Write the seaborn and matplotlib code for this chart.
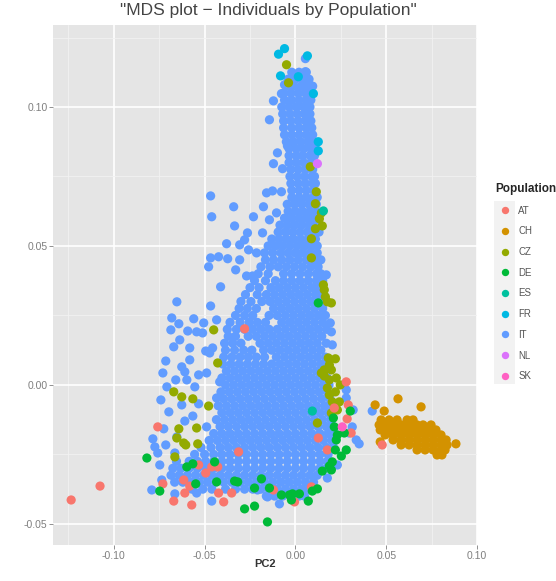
import matplotlib
matplotlib.use("Agg")
import matplotlib.pyplot as plt
from matplotlib.patches import Rectangle
import pandas as pd
import seaborn as sns

populations = ["AT", "CH", "CZ", "DE", "ES", "FR", "IT", "NL", "SK"]
colours = ["#F8766D", "#D39200", "#93AA00", "#00BA38", "#00C19F", "#00B9E3", "#619CFF", "#DB72FB", "#FF61C3"]

# (PC2, PC1), one list per population
fr_points = [(-.006, .121), (-.0093, .119), (.0066, .1184), (-.0082, .1112), (.0016, .1109), (.0099, .1048),
             (.0126, .0875), (.0126, .0842)]
nl_points = [(.0121, .0796)]
es_points = [(.0154, .0626), (.0093, -.0094)]
sk_points = [(.0258, -.0151)]
cz_points = [(-.0049, .1152), (-.0038, .1087), (.0082, .0785), (.0115, .0695), (.011, .0652), (.0143, .0619),
             (.0132, .0598), (.0148, .0572), (.011, .0562), (.0088, .0526), (.0088, .0457), (.0159, .0342),
             (.0165, .0317), (.0198, .0295), (.0176, .0299), (.0154, .036), (-.045, .0198), (-.0428, .0079),
             (-.067, -.0025), (-.0565, -.005), (-.0478, -.0076), (-.0626, -.0043), (-.0642, -.0158), (-.0544, -.0155),
             (-.0615, -.0209), (-.0604, -.0216), (-.0538, -.0212), (-.0653, -.0191), (-.0664, -.0259), (.022, .0094),
             (.0181, .0097), (.0159, .0054), (.0198, .0054), (.0143, .0043), (.0225, .0025), (.0187, .0072),
             (.0176, -.0011), (.022, -.0025), (.0203, -.0061), (.0231, -.009), (.0198, -.0101), (.0121, -.0137),
             (.0187, -.0036), (.0242, -.0061), (.0247, 0), (.0159, .0032), (.0187, .0018)]
at_points = [(-.0758, -.0151), (-.1235, -.0414), (-.1076, -.0364), (-.067, -.0418), (-.0571, -.0432), (-.0395, -.0421),
             (-.0351, -.0389), (-.0609, -.0389), (-.073, -.0356), (-.0615, -.0342), (-.0582, -.0364), (-.0533, -.0288),
             (-.0494, -.0317), (-.0461, -.0295), (-.0428, -.0295), (-.0423, -.0389), (-.028, .0202), (-.0313, -.0241),
             (.028, .0011), (.0285, -.0122), (.0307, -.0173), (.0214, -.0083), (-.0121, -.0378), (-.0005, -.0421),
             (.0088, -.0367), (.0126, -.0191), (.0176, -.0234), (.0291, -.0072), (.0478, -.0216)]
de_points = [(-.0818, -.0263), (-.0747, -.0382), (-.028, -.0446), (-.0225, -.0436), (-.0154, -.0493), (-.0598, -.0295),
             (-.0565, -.0284), (-.0549, -.0356), (-.0434, -.0349), (-.0445, -.0277), (-.0335, -.0346), (-.0318, -.0349),
             (-.0187, -.0338), (-.0143, -.0371), (-.0225, -.0371), (.0126, .0295), (.0302, -.0094), (.0209, -.0119),
             (.0225, -.0198), (.022, -.0234), (.028, -.0234), (.0253, -.0256), (.0203, -.0277), (.0148, -.031),
             (.0269, -.0173), (.0214, -.0151), (.0071, -.0418), (.0121, -.0374), (.0093, -.0382), (-.0022, -.0414),
             (.0022, -.0392), (-.0016, -.0392), (-.0077, -.0396), (-.0033, -.0396), (.0231, -.018), (.0198, -.0306),
             (.0187, -.0292)]
ch_points = [(.0439, -.0072), (.0565, -.0050), (.0692, -.0079), (.0489, -.0094), (.0467, -.0205), (.0884, -.0212),
             (.0472, -.0126), (.0516, -.0126), (.056, -.0126), (.0615, -.0126), (.0648, -.0126),
             (.0461, -.0144), (.0494, -.0144), (.0538, -.0144), (.0582, -.0144), (.0626, -.0144), (.067, -.0144), (.0703, -.0144), (.0747, -.0144),
             (.0467, -.0162), (.0511, -.0162), (.0555, -.0162), (.0598, -.0162), (.0642, -.0162), (.0686, -.0162), (.073, -.0162), (.0774, -.0162),
             (.0494, -.018), (.0538, -.018), (.0582, -.018), (.0626, -.018), (.067, -.018), (.0714, -.018), (.0758, -.018), (.0802, -.018),
             (.0538, -.0198), (.0582, -.0198), (.0626, -.0198), (.067, -.0198), (.0714, -.0198), (.0758, -.0198), (.0802, -.0198), (.083, -.0198),
             (.0582, -.0216), (.0626, -.0216), (.067, -.0216), (.0714, -.0216), (.0758, -.0216), (.0802, -.0216), (.0835, -.0216),
             (.067, -.0234), (.0714, -.0234), (.0758, -.0234), (.0802, -.0234), (.0824, -.0234),
             (.078, -.0252), (.0807, -.0252)]
it_fringe = [(.0055, .1174), (.0055, .1127), (-.006, .108), (-.0077, .1048), (-.0121, .1022), (-.0143, .0954),
             (-.0044, .086), (-.0099, .0835), (-.0121, .0796), (-.0071, .0778), (-.0467, .068), (-.034, .0641),
             (-.0461, .0605), (-.0231, .0605), (-.0335, .0572), (-.0176, .0641), (-.0159, .0691), (-.0126, .0698),
             (-.0077, .0695), (-.0264, .0547), (-.0379, .0508), (-.0307, .0504), (-.0467, .0457), (-.0423, .0461),
             (-.0373, .0454), (-.0307, .045), (-.0478, .0425), (-.0329, .0414), (-.0269, .0392), (-.0236, .0392),
             (-.028, .0522), (-.0258, .0486), (-.0214, .0475), (-.0181, .0547), (-.0143, .0594), (-.0104, .0619),
             (-.0653, .0299), (-.0467, .0284), (-.0412, .0353), (-.0681, .0241), (-.0642, .022), (-.056, .0238),
             (-.0505, .0223), (-.0686, .0198), (-.0593, .0194), (-.0544, .0191), (-.0511, .0187), (-.0637, .0162),
             (-.067, .0137), (-.0582, .0133), (-.0582, .009), (-.0494, .0122), (-.0456, .0133), (-.0714, .0086),
             (-.073, .0043), (-.0626, .0065), (-.0609, .0047), (-.0659, .0018), (-.0533, .0036), (-.0489, .0043),
             (-.0708, -.0007), (-.0598, .0018), (-.0554, -.0007), (-.0741, -.0054), (-.0626, -.0072), (-.0533, -.0068),
             (-.0697, -.0097), (-.0565, -.0112), (-.0609, -.013), (-.0725, -.0158), (-.0785, -.0194), (-.0714, -.0216),
             (-.0774, -.0223), (-.0758, -.0245), (-.0664, -.0245), (-.0747, -.0288), (-.0736, -.0342), (-.0791, -.0378),
             (-.0664, -.0392), (-.0544, -.0389), (-.0461, -.0418), (-.0653, -.0187), (-.0489, -.0151), (-.0434, -.0047),
             (-.0417, .0011), (-.0472, .0115), (-.0434, .0234), (.028, -.0018), (.028, -.0047), (.0423, -.0094),
             (.0313, -.0151), (.0335, -.0198), (.0351, -.0212), (.0318, -.009), (.0296, -.0173), (.0231, -.0288),
             (.0176, -.0335), (-.0154, -.0403), (-.0088, -.0428), (-.0209, -.0378), (.017, .0396), (.0203, .0144),
             (.0198, .0191), (.0192, .0223)]

# the dense IT body, read row by row: PC1 level, then the PC2 values along it
it_levels = [.1125, .11, .1075, .105, .1025, .1, .0975, .095, .0925, .09, .0875, .085, .0825, .08, .0775, .075, .0725,
             .07, .0675, .065, .0625, .06, .0575, .055, .0525, .05, .0475, .045, .0425, .04, .0375, .035, .0325, .03,
             .0275, .025, .0225, .02, .0175, .015, .0125, .01, .0075, .005, .0025, 0, -.0025, -.005, -.0075, -.01,
             -.0125, -.015, -.0175, -.02, -.0225, -.025, -.0275, -.03, -.0325, -.035, -.0375, -.04]
it_rows = [
    [-.002, .002, .006],
    [-.004, 0, .004, .0075],
    [-.005, -.001, .003, .0065, .0095],
    [-.0065, -.0025, .0015, .0055, .0085],
    [-.006, -.002, .002, .006, .0085],
    [-.0075, -.0035, .0005, .0045, .008],
    [-.007, -.003, .001, .005, .008],
    [-.0065, -.0025, .0015, .0055, .0085],
    [-.0065, -.002, .002, .006, .009],
    [-.006, -.002, .002, .006, .0095],
    [-.005, -.001, .003, .007, .0105],
    [-.0035, .0005, .0045, .0085, .011],
    [-.0035, .0005, .004, .008, .0105],
    [-.0035, .0005, .0045, .0085, .0095],
    [-.0025, .0015, .0055, .0095],
    [-.003, .001, .005, .009, .0105],
    [-.0025, .0015, .0055, .0095, .011],
    [-.002, .002, .006, .01],
    [-.002, .002, .006, .01, .012],
    [-.0045, -.0005, .0035, .0075, .0115],
    [-.004, 0, .004, .008, .011],
    [-.006, -.002, .002, .006, .01, .0125],
    [-.0085, -.0045, -.0005, .0035, .0075, .0115],
    [-.0095, -.0055, -.0015, .0025, .0065, .0105, .013],
    [-.013, -.009, -.005, -.001, .003, .007, .011],
    [-.015, -.011, -.007, -.003, .001, .005, .009, .012],
    [-.017, -.0125, -.008, -.004, 0, .004, .008, .012],
    [-.0165, -.012, -.0075, -.003, .0015, .006, .0105, .014],
    [-.019, -.014, -.0095, -.005, -.0005, .004, .0085, .0125],
    [-.0205, -.015, -.0065, -.002, .0025, .007, .0115, .014],
    [-.0225, -.0165, -.011, -.0065, -.002, .0025, .007, .0115, .015],
    [-.025, -.02, -.0135, -.009, -.0045, 0, .0045, .009, .013],
    [-.0275, -.021, -.016, -.0115, -.007, -.0025, .002, .0065, .011, .015],
    [-.03, -.0245, -.0185, -.014, -.0095, -.005, -.0005, .004, .0085, .013, .0165],
    [-.031, -.0265, -.0215, -.012, -.0075, -.003, .0015, .006, .0105, .015],
    [-.033, -.028, -.0235, -.0145, -.01, -.0055, -.001, .0035, .008, .0125, .0165],
    [-.036, -.0305, -.0255, -.021, -.0165, -.0075, -.003, .0015, .006, .0105, .015],
    [-.0375, -.0325, -.028, -.0235, -.019, -.0145, -.01, -.0055, -.001, .0035, .008, .0125, .017],
    [-.037, -.033, -.026, -.0215, -.017, -.0125, -.008, -.0035, .001, .0055, .01, .0145],
    [-.039, -.0345, -.03, -.0195, -.015, -.0105, -.006, -.0015, .003, .0075, .012, .017],
    [-.0385, -.0335, -.0285, -.024, -.0175, -.013, -.0085, -.004, .0005, .005, .0095, .014],
    [-.0395, -.035, -.0305, -.026, -.0215, -.017, -.0105, -.006, -.0015, .003, .0075, .012, .0165],
    [-.04, -.0355, -.031, -.0265, -.022, -.0175, -.013, -.0085, -.004, .0005, .005, .0095, .014, .0175],
    [-.038, -.0335, -.029, -.0245, -.02, -.0155, -.011, -.0065, -.002, .0025, .007, .0115, .016],
    [-.0405, -.036, -.0315, -.027, -.0225, -.018, -.0135, -.009, -.0045, 0, .0045, .009, .0135, .0175],
    [-.0385, -.034, -.0295, -.025, -.0205, -.016, -.0115, -.007, -.0025, .002, .0065, .011, .0155, .0185],
    [-.041, -.0365, -.032, -.0275, -.023, -.0185, -.014, -.0095, -.005, -.0005, .004, .0085, .013, .0175],
    [-.0395, -.035, -.0305, -.026, -.0215, -.017, -.0125, -.008, -.0035, .001, .0055, .01, .0145, .019],
    [-.0425, -.038, -.0335, -.029, -.0245, -.02, -.0155, -.011, -.0065, -.002, .0025, .007, .0115, .016, .0195],
    [-.0405, -.036, -.0315, -.027, -.0225, -.018, -.0135, -.009, -.0045, 0, .0045, .009, .0135, .018],
    [-.0435, -.039, -.0345, -.03, -.0255, -.021, -.0165, -.012, -.0075, -.003, .0015, .006, .0105, .015, .0195],
    [-.0415, -.037, -.0325, -.028, -.0235, -.019, -.0145, -.01, -.0055, -.001, .0035, .008, .0125, .017, .021],
    [-.045, -.0405, -.036, -.0315, -.027, -.0225, -.018, -.0135, -.009, -.0045, 0, .0045, .009, .0135, .018, .0215],
    [-.0475, -.043, -.0385, -.034, -.0295, -.025, -.0205, -.016, -.0115, -.007, -.0025, .002, .0065, .011, .0155, .02],
    [-.052, -.0465, -.0415, -.037, -.0325, -.028, -.0235, -.019, -.0145, -.01, -.0055, -.001, .0035, .008, .0125, .017, .021],
    [-.0555, -.05, -.045, -.0405, -.036, -.0315, -.027, -.0225, -.018, -.0135, -.009, -.0045, 0, .0045, .009, .0135, .018],
    [-.0655, -.0585, -.054, -.0495, -.045, -.0405, -.036, -.0315, -.027, -.0225, -.018, -.0135, -.009, -.0045, 0, .0045, .009, .0135, .0175],
    [-.0675, -.063, -.0585, -.054, -.0495, -.045, -.0405, -.036, -.0315, -.027, -.0225, -.018, -.0135, -.009, -.0045, 0, .0045, .009, .0135, .017],
    [-.0685, -.064, -.0595, -.055, -.0505, -.046, -.0415, -.037, -.0325, -.028, -.0235, -.019, -.0145, -.01, -.0055, -.001, .0035, .008, .012],
    [-.0665, -.062, -.0575, -.053, -.0485, -.044, -.0395, -.035, -.0305, -.026, -.0215, -.017, -.0125, -.008, -.0035, .001, .0055, .01],
    [-.057, -.051, -.046, -.0385, -.033, -.028, -.0235, -.019, -.0145, -.01, -.0055, -.001, .0035, .0075],
    [-.016, -.0115, -.007, -.0025, .002, .005],
]

x_ticks = [-.10, -.05, 0, .05, .10]
y_ticks = [-.05, 0, .05, .10]


def make_frame():
    rows = [(x, y, "IT") for x, y in it_fringe]
    for y, xs in zip(it_levels, it_rows):
        rows += [(x, y, "IT") for x in xs]
    # drawn in this order, so the small groups stay visible over the IT body
    others = [("CH", ch_points), ("CZ", cz_points), ("AT", at_points), ("DE", de_points),
              ("ES", es_points), ("FR", fr_points), ("NL", nl_points), ("SK", sk_points)]
    for name, points in others:
        rows += [(x, y, name) for x, y in points]
    return pd.DataFrame(rows, columns=["PC2", "PC1", "Population"])


sns.set_theme(style="darkgrid", rc={"axes.facecolor": "#E5E5E5", "grid.color": "white"})
plt.rcParams["font.family"] = ["Liberation Sans", "DejaVu Sans"]
plt.rcParams["axes.unicode_minus"] = False

fig = plt.figure(figsize=(5.56, 5.81), dpi=100)
ax = fig.add_axes([53 / 556, 1 - 545 / 581, 424 / 556, 520 / 581])

df = make_frame()
sns.scatterplot(data=df, x="PC2", y="PC1", hue="Population", hue_order=populations,
                palette=colours, s=44, linewidth=0, ax=ax)

ax.set_xlim(-.1335, .1)
ax.set_ylim(-.0576, .1295)
ax.set_xticks(x_ticks)
ax.set_yticks(y_ticks)
ax.set_xticklabels(["%.2f" % t for t in x_ticks])
ax.set_yticklabels(["%.2f" % t for t in y_ticks])
ax.set_xticks([-.125, -.075, -.025, .025, .075], minor=True)
ax.set_yticks([-.025, .025, .075, .125], minor=True)
ax.grid(True, which="major", color="white", linewidth=1.2)
ax.grid(True, which="minor", color="#F2F2F2", linewidth=0.6)
ax.tick_params(axis="both", which="major", length=3, width=0.6, color="#7F7F7F",
               labelcolor="#7F7F7F", labelsize=7.5, pad=1, bottom=True, left=True)
ax.tick_params(axis="both", which="minor", length=0)
for spine in ax.spines.values():
    spine.set_visible(False)

ax.set_ylabel("")
ax.set_xlabel("PC2", fontsize=8, fontweight="bold", color="#333333", labelpad=-1)
fig.text(268 / 556, 1 - 10 / 581, '"MDS plot \u2212 Individuals by Population"', ha="center", va="center",
         fontsize=12.5, color="#444444")

# the grey key strip behind the legend dots
fig.add_artist(Rectangle((494 / 556, 1 - 384 / 581), 21 / 556, 183 / 581, transform=fig.transFigure,
                         facecolor="#F2F2F2", edgecolor="none"))

handles, labels = ax.get_legend_handles_labels()
legend = fig.legend(handles, labels, title="Population", loc="upper left", bbox_to_anchor=(495 / 556, 1 - 183 / 581),
                    frameon=False, fontsize=7, labelspacing=1.1, handletextpad=0.4, markerscale=0.8,
                    borderaxespad=0, borderpad=0, title_fontproperties={"weight": "bold", "size": 8.5})
legend._legend_box.align = "left"
ax.get_legend().remove()
for text in legend.get_texts():
    text.set_color("#555555")

fig.savefig("out.png", dpi=100)
